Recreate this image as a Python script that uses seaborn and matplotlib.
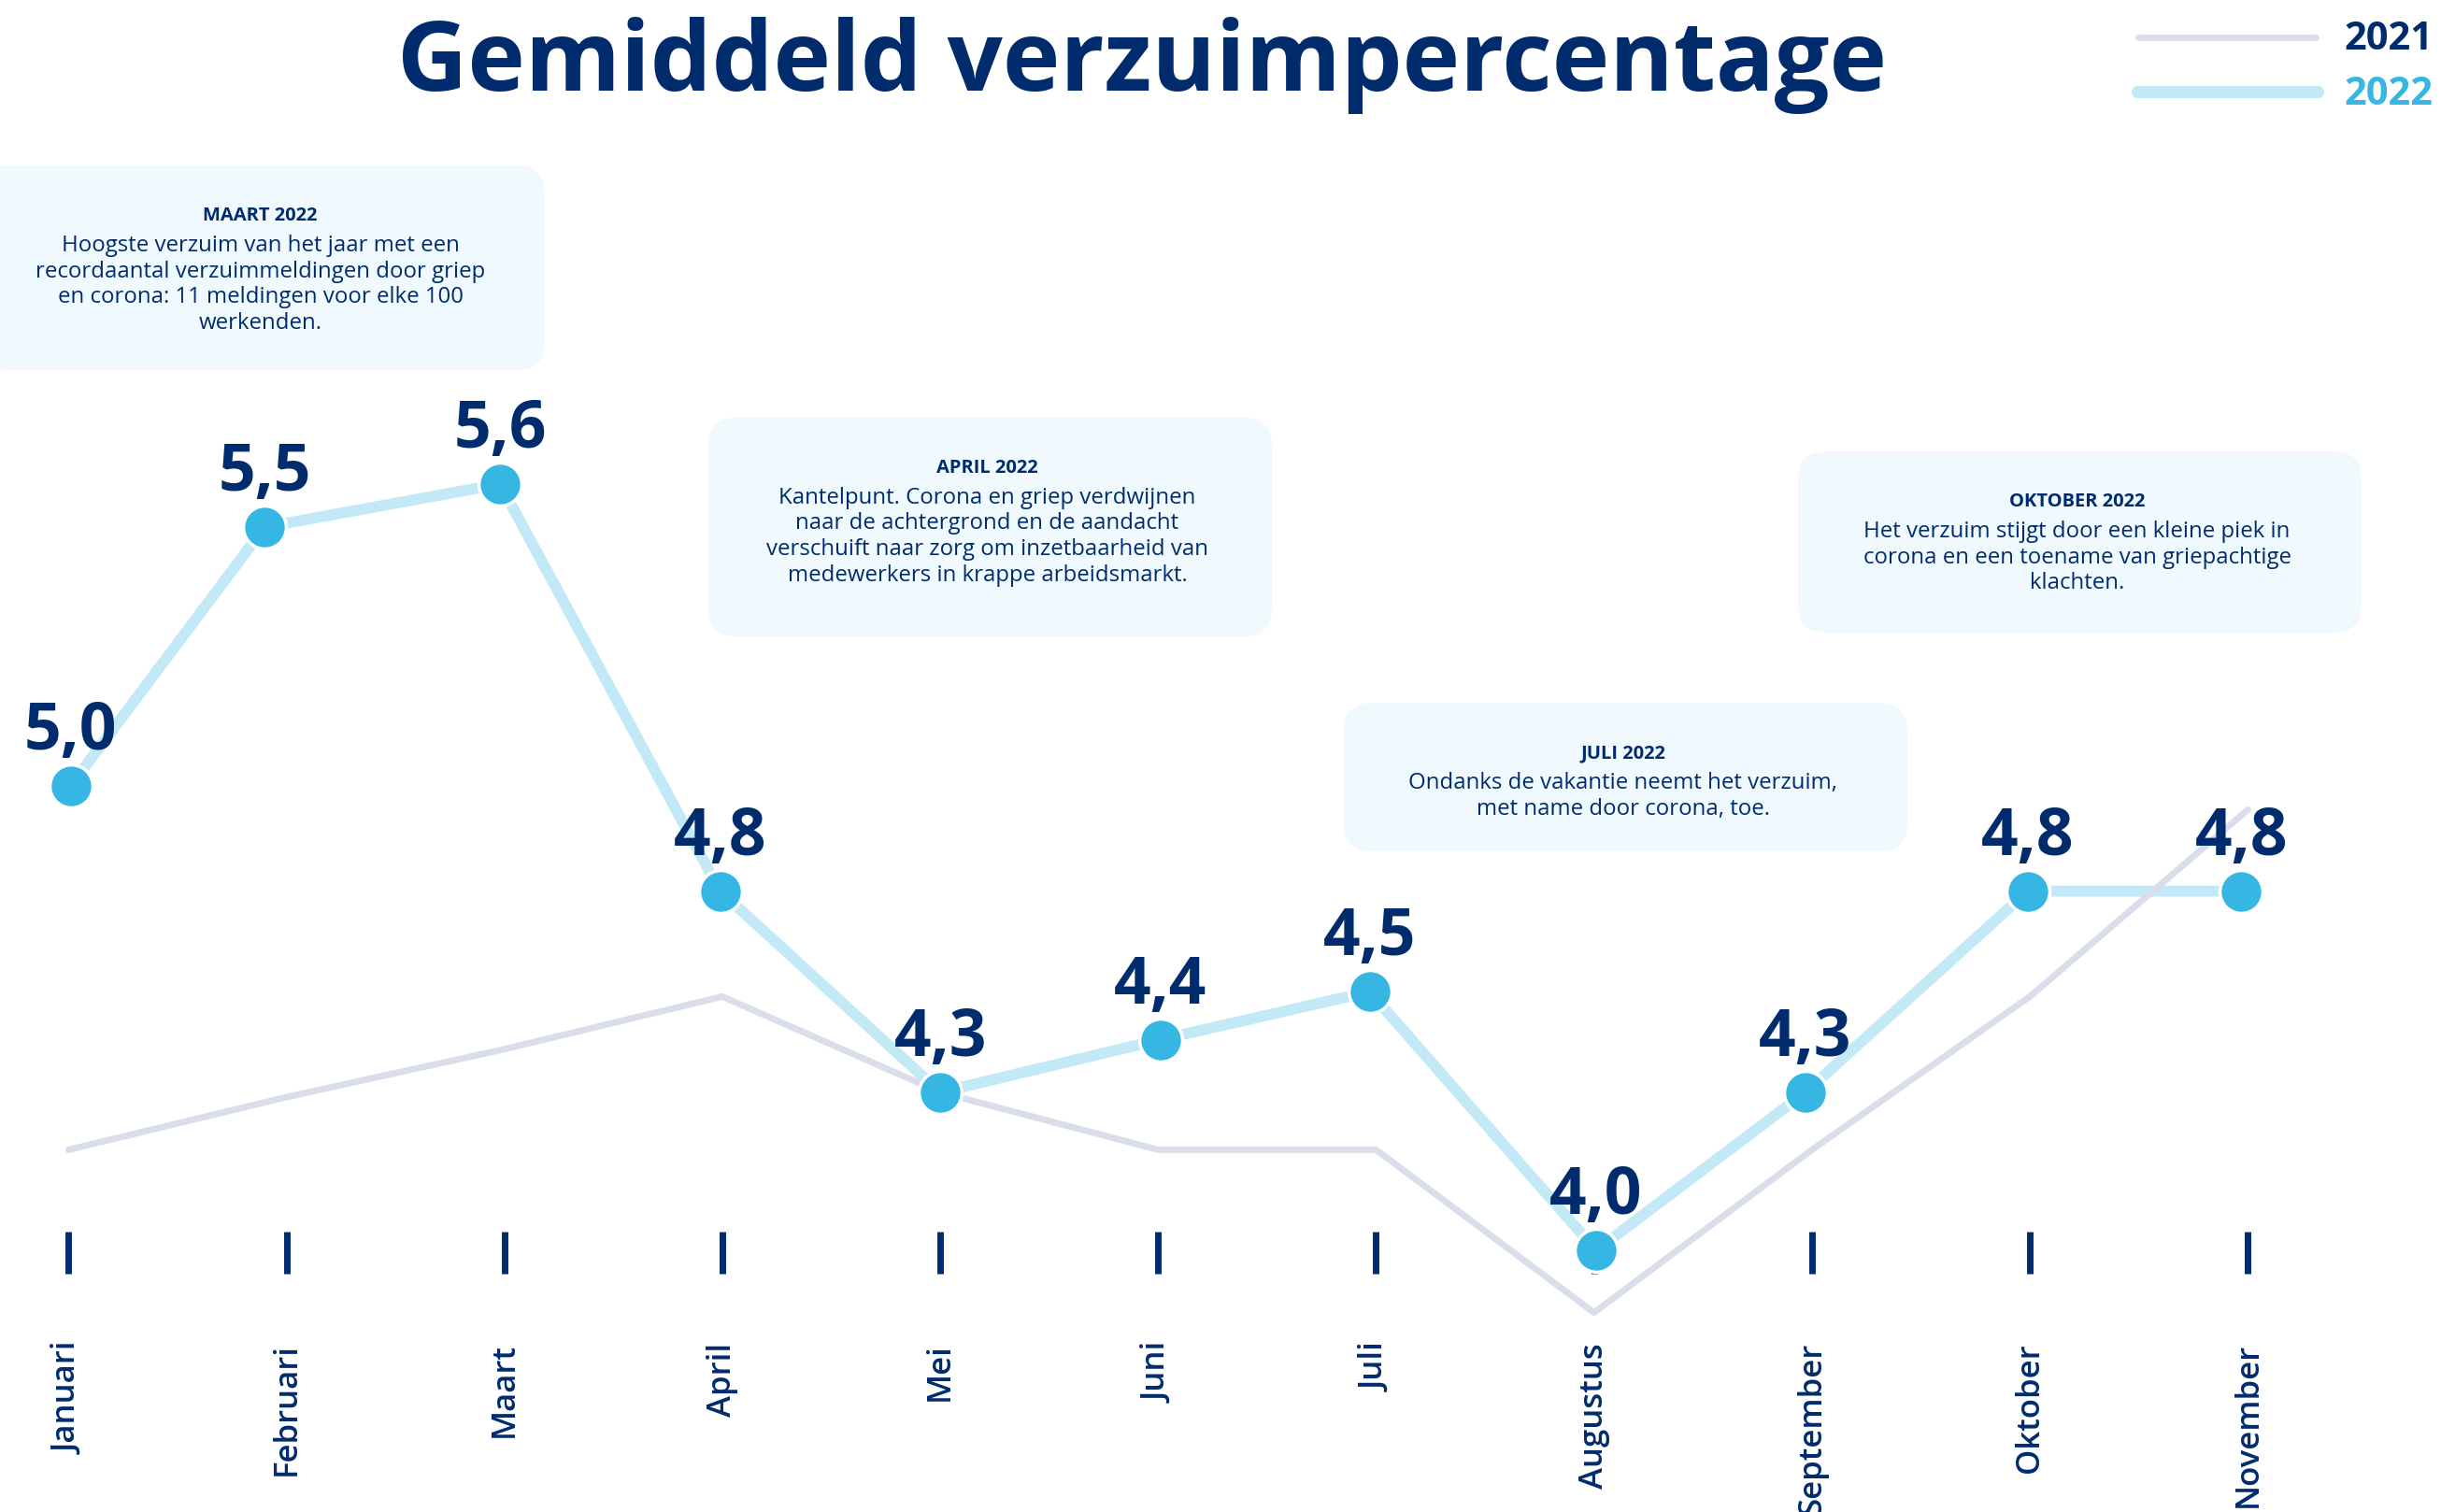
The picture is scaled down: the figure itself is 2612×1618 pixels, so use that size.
import pandas as pd
import matplotlib
matplotlib.use("Agg")
import matplotlib.pyplot as plt
from matplotlib.patches import FancyBboxPatch
import seaborn as sns

# Data
maanden = ["Januari", "Februari", "Maart", "April", "Mei", "Juni", "Juli",
           "Augustus", "September", "Oktober", "November"]
verzuim_2021 = [4.21, 4.32, 4.42, 4.53, 4.33, 4.21, 4.21, 3.87, 4.21, 4.53, 4.92]
verzuim_2022 = [4.97, 5.51, 5.60, 4.75, 4.33, 4.44, 4.54, 4.00, 4.33, 4.75, 4.75]
labels_2022 = ["5,0", "5,5", "5,6", "4,8", "4,3", "4,4", "4,5", "4,0", "4,3", "4,8", "4,8"]
# de stippen van 2022 staan niet precies op de maandstreepjes
positie_2022 = [0.01, 0.90, 1.98, 2.99, 4.00, 5.01, 5.97, 7.01, 7.97, 8.99, 9.97]

notitie_titels = ["MAART 2022", "APRIL 2022", "JULI 2022", "OKTOBER 2022"]
notitie_teksten = [
    ["Hoogste verzuim van het jaar met een",
     "recordaantal verzuimmeldingen door griep",
     "en corona: 11 meldingen voor elke 100",
     "werkenden."],
    ["Kantelpunt. Corona en griep verdwijnen",
     "naar de achtergrond en de aandacht",
     "verschuift naar zorg om inzetbaarheid van",
     "medewerkers in krappe arbeidsmarkt."],
    ["Ondanks de vakantie neemt het verzuim,",
     "met name door corona, toe."],
    ["Het verzuim stijgt door een kleine piek in",
     "corona en een toename van griepachtige",
     "klachten."],
]
# kaders in pixels: links, boven, onder
notitie_vakken = [(-20, 177, 396), (758, 447, 681), (1438, 752, 911), (1924, 483, 677)]

# Kleuren
NAVY = "#002c6e"
STIP = "#35b6e3"
LIJN_22 = "#c3e9f6"
LIJN_21 = "#d9deea"
VAK = "#f0f9fd"

# Opmaak (pixels)
W, H = 2612, 1618
X0, DX = 73.3, 233.2   # positie januari, afstand per maand
Y4, DY = 1338, 512.5   # positie 4,0 en pixels per procentpunt
VAK_B = 603

sns.set_theme(style="white")
plt.rcParams["font.family"] = ["Open Sans", "DejaVu Sans"]

fig = plt.figure(figsize=(W / 100, H / 100), dpi=100)
bg = fig.add_axes([0, 0, 1, 1])
bg.set_xlim(0, W)
bg.set_ylim(H, 0)
bg.axis("off")

ax = fig.add_axes([0, 0, 1, 1])
ax.patch.set_alpha(0)

df21 = pd.DataFrame({"pos": range(len(maanden)), "maand": maanden, "verzuim": verzuim_2021})
df22 = pd.DataFrame({"pos": positie_2022, "maand": maanden, "verzuim": verzuim_2022})

sns.lineplot(data=df22, x="pos", y="verzuim", ax=ax, color=LIJN_22, linewidth=8.5,
             zorder=2, solid_capstyle="round", sort=False)
sns.lineplot(data=df21, x="pos", y="verzuim", ax=ax, color=LIJN_21, linewidth=5,
             zorder=3, solid_capstyle="round", sort=False)
sns.scatterplot(data=df22, x="pos", y="verzuim", ax=ax, s=33 ** 2, color=STIP,
                edgecolor="white", linewidth=2.5, zorder=4)

ax.set_xlim(-X0 / DX, (W - X0) / DX)
ax.set_ylim(4 - (H - Y4) / DY, 4 + Y4 / DY)
ax.axis("off")

# maandstreepjes en labels
ax.vlines(df21["pos"], 1 - 1318 / H, 1 - 1363 / H, transform=ax.get_xaxis_transform(),
          color=NAVY, linewidth=5)
for i, m in enumerate(maanden):
    ax.text(i, 1 - 1437 / H, m, transform=ax.get_xaxis_transform(), rotation=90,
            ha="center", va="top", fontsize=25, fontweight="semibold", color=NAVY)

for x, v, lbl in zip(positie_2022, verzuim_2022, labels_2022):
    ax.annotate(lbl, (x, v), xytext=(0, 28), textcoords="offset points",
                ha="center", va="baseline", fontsize=50, fontweight="bold",
                color=NAVY, zorder=5)

# titel
bg.text(1222, 97, "Gemiddeld verzuimpercentage", ha="center", va="baseline",
        fontsize=75, fontweight="bold", color=NAVY)

# legenda
bg.plot([2288, 2478], [40, 40], color=LIJN_21, linewidth=5, solid_capstyle="round")
bg.plot([2287, 2480], [98, 98], color=LIJN_22, linewidth=9.5, solid_capstyle="round")
bg.text(2508, 53, "2021", ha="left", va="baseline", fontsize=30, fontweight="bold", color=NAVY)
bg.text(2508, 112, "2022", ha="left", va="baseline", fontsize=30, fontweight="bold", color=STIP)

# toelichtingen
for titel, regels, (x, top, bot) in zip(notitie_titels, notitie_teksten, notitie_vakken):
    bg.add_patch(FancyBboxPatch((x, top), VAK_B, bot - top,
                                boxstyle="round,pad=0,rounding_size=30",
                                facecolor=VAK, edgecolor="none", zorder=0))
    cx = x + VAK_B / 2
    bg.text(cx - 3, top + 59, titel, ha="center", va="baseline", fontsize=14.5,
            fontweight="bold", color=NAVY)
    for k, regel in enumerate(regels):
        bg.text(cx - 3, top + 92 + 27.5 * k, regel, ha="center", va="baseline",
                fontsize=17.3, color=NAVY)

fig.savefig("out.png", dpi=100)
